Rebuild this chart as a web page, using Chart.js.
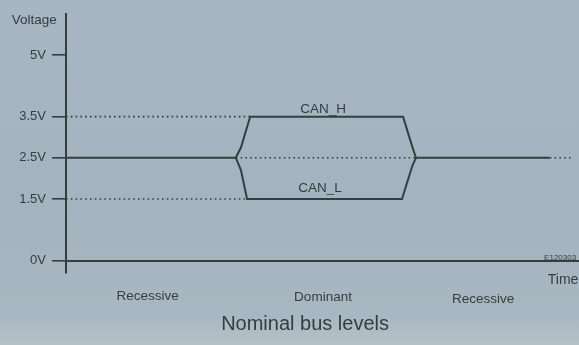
<!DOCTYPE html>
<html>
<head>
<meta charset="utf-8">
<script src="https://cdn.jsdelivr.net/npm/chart.js@4.4.0/dist/chart.umd.min.js"></script>
<style>
  html, body { margin: 0; padding: 0; }
  body {
    width: 579px; height: 345px; overflow: hidden;
    background: linear-gradient(180deg, #a7b6c2 0%, #a3b3bf 60%, #a9b7c1 92%, #b6c2ca 100%);
  }
  #wrap { position: relative; width: 579px; height: 345px; }
</style>
</head>
<body>
<div id="wrap"><canvas id="myChart" width="579" height="345"></canvas></div>
<script>
// tick values on the voltage axis
const voltTicks = [0, 1.5, 2.5, 3.5, 5];

// signal traces (time units, volts)
const recessiveLeft = [[0, 2.5], [33.1, 2.5]];
const canH = [[33.1, 2.5], [34.1, 2.75], [35.9, 3.5], [65.7, 3.5], [67.3, 2.85], [68.2, 2.5]];
const canL = [[33.1, 2.5], [34.1, 2.2], [35.3, 1.5], [65.5, 1.5], [67.5, 2.3], [68.2, 2.5]];
const recessiveRight = [[68.2, 2.5], [94.3, 2.5]];

// dotted reference levels
const ref35 = [[0, 3.5], [35.9, 3.5]];
const ref15 = [[0, 1.5], [35.3, 1.5]];
const ref25mid = [[33.1, 2.5], [68.2, 2.5]];
const ref25tail = [[94.3, 2.5], [98.5, 2.5]];

// texts
const stateLabels = ['Recessive', 'Dominant', 'Recessive'];
const traceLabels = ['CAN_H', 'CAN_L'];
const yTitle = 'Voltage';
const xTitle = 'Time';
const figId = 'E120303';
const caption = 'Nominal bus levels';

const ink = '#323f3c';
const font = '"Liberation Sans", Arial, sans-serif';

function pts(arr) { return arr.map(p => ({x: p[0], y: p[1]})); }

function solid(arr) {
  return { data: pts(arr), borderColor: ink, borderWidth: 2, pointRadius: 0, fill: false, tension: 0 };
}
function dotted(arr) {
  return { data: pts(arr), borderColor: ink, borderWidth: 1.6, borderDash: [1.6, 3.2], pointRadius: 0, fill: false, tension: 0 };
}

// writes the text labels using the chart scales
const textPlugin = {
  id: 'texts',
  afterDraw(chart) {
    const ctx = chart.ctx;
    const xs = chart.scales.x, ys = chart.scales.y;
    function put(txt, x, y, size, align) {
      ctx.save();
      ctx.fillStyle = ink;
      ctx.font = size + 'px ' + font;
      ctx.textAlign = align || 'center';
      ctx.textBaseline = 'middle';
      ctx.fillText(txt, xs.getPixelForValue(x), ys.getPixelForValue(y));
      ctx.restore();
    }
    put(yTitle, -6.2, 5.85, 13.5);
    put(traceLabels[0], 50.1, 3.68, 13.5);
    put(traceLabels[1], 49.5, 1.75, 13.5);
    put(stateLabels[0], 15.9, -0.86, 13.5);
    put(stateLabels[1], 50.1, -0.90, 13.5);
    put(stateLabels[2], 81.3, -0.95, 13.5);
    put(xTitle, 96.9, -0.47, 14);
    put(figId, 93.2, 0.06, 8, 'left');
    put(caption, 46.6, -1.55, 20);
  }
};

const ctx = document.getElementById('myChart').getContext('2d');
const myChart = new Chart(ctx, {
  type: 'line',
  data: {
    datasets: [
      solid(recessiveLeft), solid(canH), solid(canL), solid(recessiveRight),
      dotted(ref35), dotted(ref15), dotted(ref25mid), dotted(ref25tail)
    ]
  },
  options: {
    responsive: false,
    animation: false,
    layout: { padding: { top: 12, bottom: 72, left: 0, right: 0 } },
    plugins: { legend: { display: false }, tooltip: { enabled: false } },
    scales: {
      x: {
        type: 'linear',
        min: 0, max: 100,
        position: { y: 0 },
        ticks: { display: false },
        grid: { display: false, drawTicks: false },
        border: { display: true, color: ink, width: 2 }
      },
      y: {
        type: 'linear',
        min: -0.3, max: 6,
        afterBuildTicks(scale) { scale.ticks = voltTicks.map(v => ({value: v})); },
        afterFit(scale) { scale.width = 66; },
        ticks: {
          color: ink,
          font: { family: font, size: 13 },
          padding: 6,
          callback: v => v + 'V'
        },
        grid: { drawOnChartArea: false, drawTicks: true, tickLength: 14, color: ink, lineWidth: 1.6 },
        border: { display: true, color: ink, width: 2 }
      }
    }
  },
  plugins: [textPlugin]
});
</script>
</body>
</html>
